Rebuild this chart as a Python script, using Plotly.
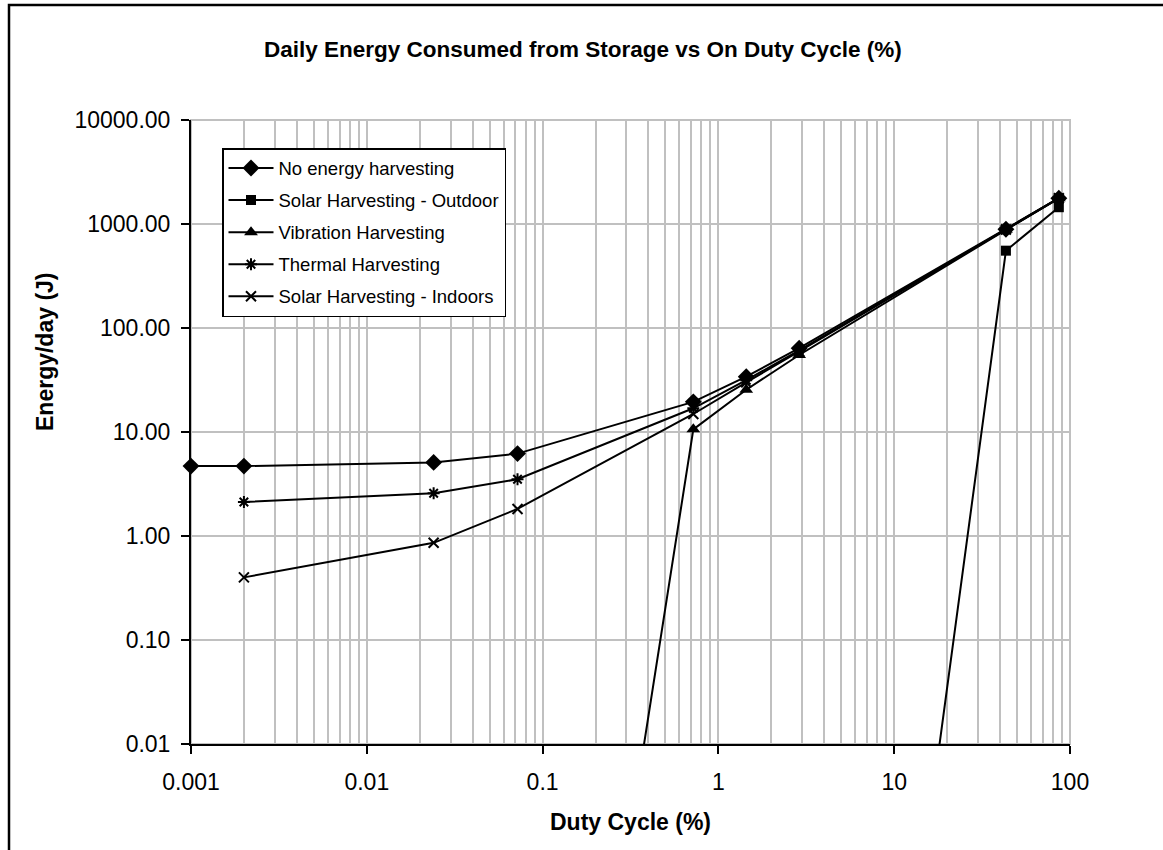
import plotly.graph_objects as go

# ---- data ----
duty = [0.001, 0.002, 0.024, 0.072, 0.72, 1.44, 2.88, 43.2, 86.4]
no_harvest = [4.7, 4.7, 5.1, 6.2, 19.5, 34.0, 64.0, 890.0, 1770.0]

solar_out_x = [2.88, 43.2, 86.4]
solar_out = [9.2e-13, 554.0, 1450.0]

vib_x = [0.072, 0.72, 1.44, 2.88, 43.2, 86.4]
vib = [1.7e-10, 10.6, 25.5, 55.0, 880.0, 1765.0]

thermal_x = [0.002, 0.024, 0.072, 0.72, 1.44, 2.88, 43.2, 86.4]
thermal = [2.12, 2.58, 3.51, 16.9, 31.5, 61.0, 887.0, 1772.0]

indoor_x = [0.002, 0.024, 0.072, 0.72, 1.44, 2.88, 43.2, 86.4]
indoor = [0.40, 0.86, 1.82, 14.9, 30.0, 59.5, 886.0, 1770.0]

x_tickvals = [0.001, 0.01, 0.1, 1, 10, 100]
x_ticktext = ["0.001", "0.01", "0.1", "1", "10", "100"]
y_tickvals = [0.01, 0.1, 1, 10, 100, 1000, 10000]
y_ticktext = ["0.01", "0.10", "1.00", "10.00", "100.00", "1000.00", "10000.00"]

FONT = "Liberation Sans, Arial, Helvetica, sans-serif"
W, H = 1163, 850
# plot area in page pixels: x 191..1070, y 120..744
PL, PR, PT, PB = 191, 1070, 120, 744
L, T = PL, PT
R = W - PR
B = H - PB

fig = go.Figure()

def add(name, x, y, symbol, size, lw_marker=0, clip=True):
    fig.add_trace(go.Scatter(
        x=x, y=y, name=name, mode="lines+markers", legendgroup=name,
        line=dict(color="black", width=2),
        marker=dict(symbol=symbol, size=size, color="black",
                    line=dict(color="black", width=lw_marker)),
        cliponaxis=clip,
    ))

add("No energy harvesting", duty, no_harvest, "diamond", 13, clip=False)
add("Solar Harvesting - Outdoor", solar_out_x, solar_out, "square", 10)
add("Vibration Harvesting", vib_x, vib, "triangle-up", 12)
add("Thermal Harvesting", thermal_x, thermal, "asterisk-open", 10, 2)
add("Solar Harvesting - Indoors", indoor_x, indoor, "x-thin-open", 10, 2)

# page pixel -> paper coordinate
def px(xp):
    return (xp - PL) / (PR - PL)
def py(yp):
    return (PB - yp) / (PB - PT)

grid = "#c0c0c0"
fig.update_layout(
    width=W, height=H,
    margin=dict(l=L, r=R, t=T, b=B),
    paper_bgcolor="white", plot_bgcolor="white",
    font=dict(family=FONT, color="black"),
    showlegend=True,
    legend=dict(
        x=px(222), y=py(148), xanchor="left", yanchor="top",
        bgcolor="white", bordercolor="black", borderwidth=1.5,
        font=dict(family=FONT, size=18.5, color="black"),
        tracegroupgap=5, itemwidth=45,
        traceorder="grouped",
    ),
    xaxis=dict(
        type="log", range=[-3, 2],
        tickvals=x_tickvals, ticktext=x_ticktext,
        tickfont=dict(family=FONT, size=23, color="black"),
        showgrid=True, gridcolor=grid, gridwidth=2,
        minor=dict(dtick="D1", showgrid=True, gridcolor=grid, gridwidth=2, ticks=""),
        showline=True, linecolor="black", linewidth=2,
        ticks="outside", ticklen=8, tickwidth=2, tickcolor="black",
        ticklabelstandoff=8,
        zeroline=False,
    ),
    yaxis=dict(
        type="log", range=[-2, 4],
        tickvals=y_tickvals, ticktext=y_ticktext,
        tickfont=dict(family=FONT, size=23, color="black"),
        showgrid=True, gridcolor=grid, gridwidth=2,
        showline=True, linecolor="black", linewidth=2,
        ticks="outside", ticklen=8, tickwidth=2, tickcolor="black",
        ticklabelstandoff=6,
        zeroline=False,
    ),
    shapes=[
        # plot area border (grey top/right)
        dict(type="rect", xref="paper", yref="paper", x0=0, x1=1, y0=0, y1=1,
             line=dict(color=grid, width=2), layer="below"),
        # chart area frame
        dict(type="rect", xref="paper", yref="paper",
             x0=px(9), x1=px(1180), y0=py(870), y1=py(5),
             line=dict(color="black", width=2.5), layer="below"),
    ],
    annotations=[
        dict(text="<b>Daily Energy Consumed from Storage vs On Duty Cycle (%)</b>",
             xref="paper", yref="paper", x=px(583), y=py(50),
             xanchor="center", yanchor="middle",
             showarrow=False, font=dict(family=FONT, size=22.5, color="black")),
        dict(text="<b>Duty Cycle (%)</b>",
             xref="paper", yref="paper", x=px(630), y=py(822),
             xanchor="center", yanchor="middle",
             showarrow=False, font=dict(family=FONT, size=23, color="black")),
        dict(text="<b>Energy/day (J)</b>", textangle=-90,
             xref="paper", yref="paper", x=px(45), y=py(352),
             xanchor="center", yanchor="middle",
             showarrow=False, font=dict(family=FONT, size=23, color="black")),
    ],
)

fig.write_html("out.html",
               config={"displayModeBar": False},
               post_script="document.body.style.margin='0';document.body.style.overflow='hidden';")
